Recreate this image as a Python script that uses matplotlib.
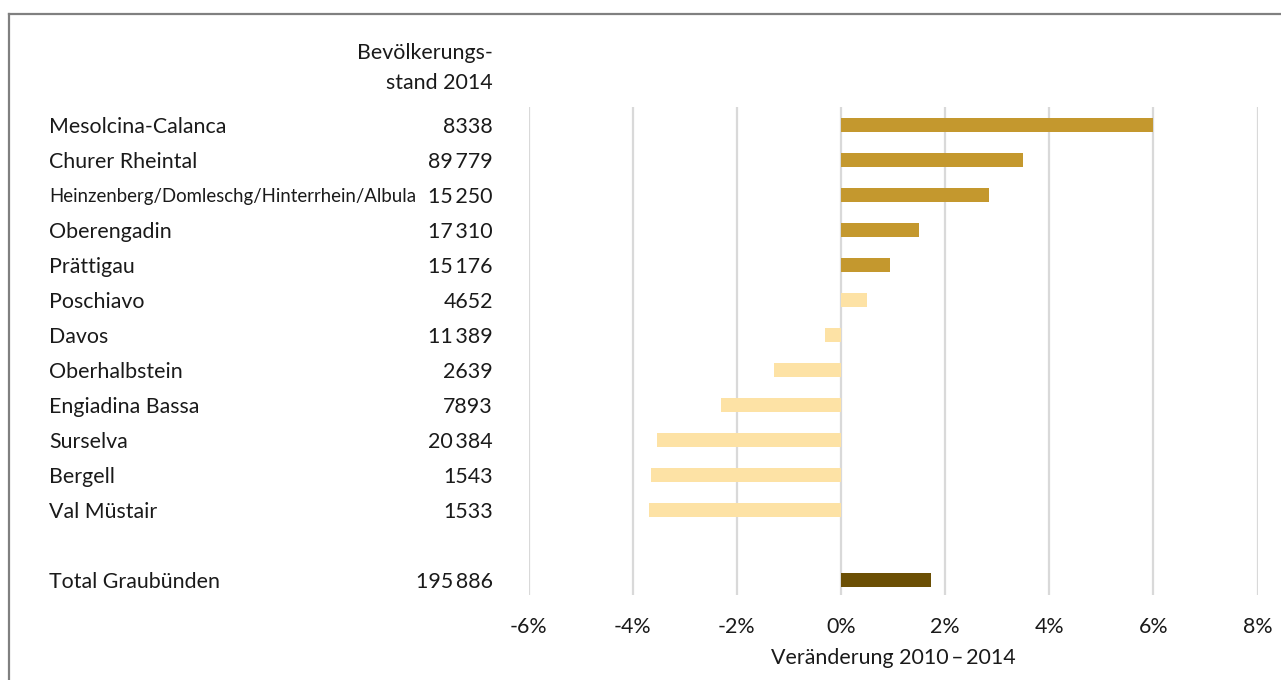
import matplotlib
matplotlib.use("Agg")
import matplotlib.pyplot as plt
from matplotlib.transforms import blended_transform_factory
from matplotlib.lines import Line2D

plt.rcParams['font.family'] = ['Lato', 'DejaVu Sans']

# Regions of Graubünden: population 2014 and change 2010-2014 (%)
regions = ["Mesolcina-Calanca", "Churer Rheintal",
           "Heinzenberg/Domleschg/Hinterrhein/Albula", "Oberengadin",
           "Prättigau", "Poschiavo", "Davos", "Oberhalbstein",
           "Engiadina Bassa", "Surselva", "Bergell", "Val Müstair"]
population = [8338, 89779, 15250, 17310, 15176, 4652, 11389, 2639,
              7893, 20384, 1543, 1533]
change = [6.0, 3.5, 2.85, 1.5, 0.95, 0.5, -0.3, -1.28, -2.3, -3.54,
          -3.64, -3.68]

total_label = "Total Graubünden"
total_population = 195886
total_change = 1.72

xticks = [-6, -4, -2, 0, 2, 4, 6, 8]

# regions with strong growth are highlighted in the darker tone
GROWTH_THRESHOLD = 0.75
C_UP = "#C4982E"
C_DOWN = "#FDE2A5"
C_TOTAL = "#6B4F04"
TXT = "#1a1a1a"
FS = 15.4

W, H = 1281, 680
fig = plt.figure(figsize=(W / 100, H / 100), dpi=100)

# plot area: grid spans x from -6% to 8%, rows are 35 px apart
x0, x1 = 528.6, 1257.5
ytop, ybot = 107, 595
ax = fig.add_axes([x0 / W, 1 - ybot / H, (x1 - x0) / W, (ybot - ytop) / H])
row0, step = 125, 35
ax.set_xlim(-6, 8)
ax.set_ylim((ybot - row0) / step, (ytop - row0) / step)

ypos = list(range(len(regions)))
colors = [C_UP if v > GROWTH_THRESHOLD else C_DOWN for v in change]
ax.barh(ypos, change, height=0.4, color=colors, zorder=3)
total_y = len(regions) + 1
ax.barh([total_y], [total_change], height=0.4, color=C_TOTAL, zorder=3)

ax.set_xticks(xticks)
ax.set_xticklabels([f"{t}%" for t in xticks], fontsize=FS, color=TXT)
ax.set_yticks([])
ax.tick_params(axis='x', length=0, pad=16)
ax.grid(axis='x', color="#D9D9D9", linewidth=1.6, zorder=0)
for s in ax.spines.values():
    s.set_visible(False)
ax.set_xlabel("Veränderung 2010\u2009–\u20092014", fontsize=FS, color=TXT,
              labelpad=8)


def fmt(n):
    s = f"{n:d}"
    if n >= 10000:
        s = f"{n:,}".replace(",", "\u2009")
    return s


tr = blended_transform_factory(fig.transFigure, ax.transData)
name_x, pop_x = 49 / W, 493 / W
dy = 0.05
for i, (name, pop) in enumerate(zip(regions, population)):
    fs = 13.4 if len(name) > 30 else FS
    ax.text(name_x, i + dy, name, transform=tr, ha='left', va='center',
            fontsize=fs, color=TXT)
    ax.text(pop_x, i + dy, fmt(pop), transform=tr, ha='right', va='center',
            fontsize=FS, color=TXT)
ax.text(name_x, total_y + dy, total_label, transform=tr, ha='left',
        va='center', fontsize=FS, color=TXT)
ax.text(pop_x, total_y + dy, fmt(total_population), transform=tr,
        ha='right', va='center', fontsize=FS, color=TXT)

fig.text(pop_x, 1 - 53 / H, "Bevölkerungs-", ha='right', va='center',
         fontsize=FS, color=TXT)
fig.text(pop_x, 1 - 83 / H, "stand 2014", ha='right', va='center',
         fontsize=FS, color=TXT)

# frame lines on the left and top
fig.add_artist(Line2D([8.5 / W, 8.5 / W], [0, 1 - 14 / H],
                      transform=fig.transFigure, color="#808080", lw=1.6))
fig.add_artist(Line2D([8.5 / W, 1], [1 - 14 / H, 1 - 14 / H],
                      transform=fig.transFigure, color="#808080", lw=1.6))

fig.savefig("out.png", dpi=100)
